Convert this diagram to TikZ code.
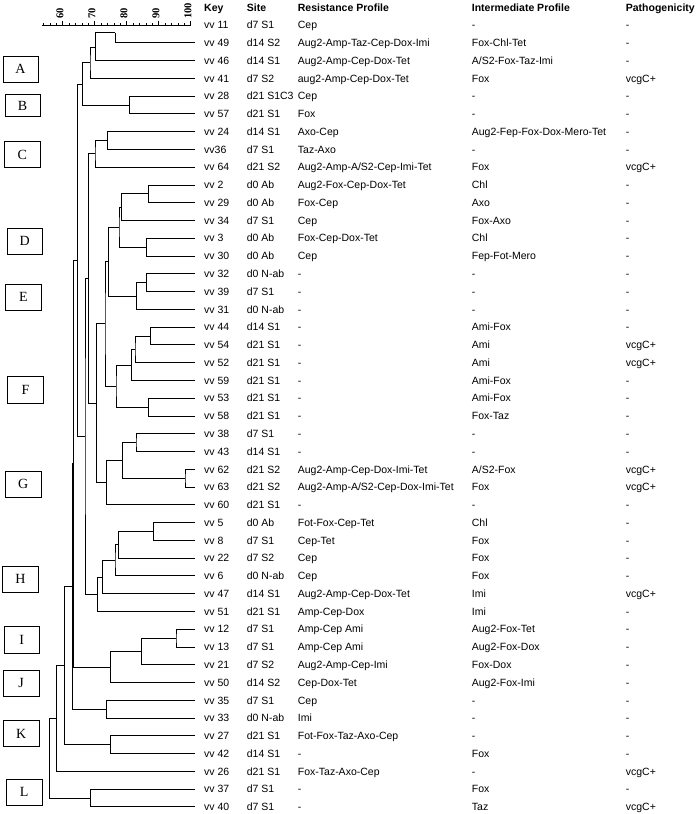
\documentclass[tikz,border=0pt]{standalone}
\usepackage{fontspec}
\setmainfont{Liberation Sans}
\newfontfamily\serifbox{Liberation Serif}
\newcommand\jn[3]{\draw[tree] (#2) -| (#1) |- (#3);}
\newcommand\leafrow[7]{%
  \pgfmathsetmacro\yy{25+17.77*#1}%
  \coordinate (l#2) at (195,\yy);%
  \node[txt] (k#2) at (204,\yy) {#3};%
  \node[txt] (s#2) at (246.7,\yy) {#4};%
  \node[txt] (r#2) at (297.7,\yy) {#5};%
  \node[txt] (m#2) at (471.7,\yy) {#6};%
  \node[txt] (p#2) at (625.7,\yy) {#7};%
}
\begin{document}
\begin{tikzpicture}[x=1pt,y=-1pt,
  txt/.style={anchor=west, inner sep=0pt, text height=7.5pt, text depth=0pt, font=\fontsize{10.5}{12}\selectfont},
  hdr/.style={anchor=west, inner sep=0pt, text height=7.5pt, text depth=0pt, font=\fontsize{10.5}{12}\selectfont\bfseries},
  axlab/.style={rotate=90, anchor=west, inner sep=0pt, text height=7.5pt, text depth=0pt, font=\serifbox\fontsize{10.5}{12}\selectfont\bfseries},
  lbox/.style={draw, line width=0.8pt, inner sep=0pt, font=\serifbox\fontsize{14}{14}\selectfont},
  tree/.style={line width=0.8pt, black}]
\useasboundingbox (0,0) rectangle (696,814);
% headers
\node[hdr] (hkey) at (204,7.5) {Key};
\node[hdr] (hsite) at (246.7,7.5) {Site};
\node[hdr] (hres) at (297.7,7.5) {Resistance Profile};
\node[hdr] (hint) at (471.7,7.5) {Intermediate Profile};
\node[hdr] (hpat) at (625.7,7.5) {Pathogenicity};
% axis
\draw[tree] (41.7,25) -- (190.7,25);
\foreach \v in {54,56,...,100} \draw[tree] ({190.7-(100-\v)*3.2},25) -- ++(0,-2.5);
\foreach \v in {60,70,...,100} {
  \draw[tree] ({190.7-(100-\v)*3.2},25) -- ++(0,-4);
  \node[axlab] at ({187.7-(100-\v)*3.2},19) {\v};
}
% rows
\leafrow{0}{11}{vv 11}{d7 S1}{Cep}{-}{-}
\leafrow{1}{49}{vv 49}{d14 S2}{Aug2-Amp-Taz-Cep-Dox-Imi}{Fox-Chl-Tet}{-}
\leafrow{2}{46}{vv 46}{d14 S1}{Aug2-Amp-Cep-Dox-Tet}{A/S2-Fox-Taz-Imi}{-}
\leafrow{3}{41}{vv 41}{d7 S2}{aug2-Amp-Cep-Dox-Tet}{Fox}{vcgC+}
\leafrow{4}{28}{vv 28}{d21 S1C3}{Cep}{-}{-}
\leafrow{5}{57}{vv 57}{d21 S1}{Fox}{-}{-}
\leafrow{6}{24}{vv 24}{d14 S1}{Axo-Cep}{Aug2-Fep-Fox-Dox-Mero-Tet}{-}
\leafrow{7}{36}{vv36}{d7 S1}{Taz-Axo}{-}{-}
\leafrow{8}{64}{vv 64}{d21 S2}{Aug2-Amp-A/S2-Cep-Imi-Tet}{Fox}{vcgC+}
\leafrow{9}{2}{vv 2}{d0 Ab}{Aug2-Fox-Cep-Dox-Tet}{Chl}{-}
\leafrow{10}{29}{vv 29}{d0 Ab}{Fox-Cep}{Axo}{-}
\leafrow{11}{34}{vv 34}{d7 S1}{Cep}{Fox-Axo}{-}
\leafrow{12}{3}{vv 3}{d0 Ab}{Fox-Cep-Dox-Tet}{Chl}{-}
\leafrow{13}{30}{vv 30}{d0 Ab}{Cep}{Fep-Fot-Mero}{-}
\leafrow{14}{32}{vv 32}{d0 N-ab}{-}{-}{-}
\leafrow{15}{39}{vv 39}{d7 S1}{-}{-}{-}
\leafrow{16}{31}{vv 31}{d0 N-ab}{-}{-}{-}
\leafrow{17}{44}{vv 44}{d14 S1}{-}{Ami-Fox}{-}
\leafrow{18}{54}{vv 54}{d21 S1}{-}{Ami}{vcgC+}
\leafrow{19}{52}{vv 52}{d21 S1}{-}{Ami}{vcgC+}
\leafrow{20}{59}{vv 59}{d21 S1}{-}{Ami-Fox}{-}
\leafrow{21}{53}{vv 53}{d21 S1}{-}{Ami-Fox}{-}
\leafrow{22}{58}{vv 58}{d21 S1}{-}{Fox-Taz}{-}
\leafrow{23}{38}{vv 38}{d7 S1}{-}{-}{-}
\leafrow{24}{43}{vv 43}{d14 S1}{-}{-}{-}
\leafrow{25}{62}{vv 62}{d21 S2}{Aug2-Amp-Cep-Dox-Imi-Tet}{A/S2-Fox}{vcgC+}
\leafrow{26}{63}{vv 63}{d21 S2}{Aug2-Amp-A/S2-Cep-Dox-Imi-Tet}{Fox}{vcgC+}
\leafrow{27}{60}{vv 60}{d21 S1}{-}{-}{-}
\leafrow{28}{5}{vv 5}{d0 Ab}{Fot-Fox-Cep-Tet}{Chl}{-}
\leafrow{29}{8}{vv 8}{d7 S1}{Cep-Tet}{Fox}{-}
\leafrow{30}{22}{vv 22}{d7 S2}{Cep}{Fox}{-}
\leafrow{31}{6}{vv 6}{d0 N-ab}{Cep}{Fox}{-}
\leafrow{32}{47}{vv 47}{d14 S1}{Aug2-Amp-Cep-Dox-Tet}{Imi}{vcgC+}
\leafrow{33}{51}{vv 51}{d21 S1}{Amp-Cep-Dox}{Imi}{-}
\leafrow{34}{12}{vv 12}{d7 S1}{Amp-Cep Ami}{Aug2-Fox-Tet}{-}
\leafrow{35}{13}{vv 13}{d7 S1}{Amp-Cep Ami}{Aug2-Fox-Dox}{-}
\leafrow{36}{21}{vv 21}{d7 S2}{Aug2-Amp-Cep-Imi}{Fox-Dox}{-}
\leafrow{37}{50}{vv 50}{d14 S2}{Cep-Dox-Tet}{Aug2-Fox-Imi}{-}
\leafrow{38}{35}{vv 35}{d7 S1}{Cep}{-}{-}
\leafrow{39}{33}{vv 33}{d0 N-ab}{Imi}{-}{-}
\leafrow{40}{27}{vv 27}{d21 S1}{Fot-Fox-Taz-Axo-Cep}{-}{-}
\leafrow{41}{42}{vv 42}{d14 S1}{-}{Fox}{-}
\leafrow{42}{26}{vv 26}{d21 S1}{Fox-Taz-Axo-Cep}{-}{vcgC+}
\leafrow{43}{37}{vv 37}{d7 S1}{-}{Fox}{-}
\leafrow{44}{40}{vv 40}{d7 S1}{-}{Taz}{vcgC+}
% internal nodes (x, stem y)
\coordinate (a1) at (115,32.5);
\coordinate (a2) at (95.7,47.2);
\coordinate (a3) at (90,62.8);
\coordinate (b1) at (129.3,105.0);
\coordinate (ab) at (82.7,83.9);
\coordinate (c1) at (107.7,140.5);
\coordinate (c2) at (95,153.8);
\coordinate (d1) at (148.3,193.8);
\coordinate (d2) at (121.7,207.1);
\coordinate (d3) at (146.7,247.1);
\coordinate (d4) at (119,227.1);
\coordinate (e1) at (146.7,282.7);
\coordinate (e2) at (136.7,296.0);
\coordinate (de) at (108.3,261.6);
\coordinate (f1) at (150.7,336.0);
\coordinate (f2) at (135,349.3);
\coordinate (f3) at (131.7,364.9);
\coordinate (f4) at (148.3,407.1);
\coordinate (f5) at (116,386.0);
\coordinate (df) at (105,323.8);
\coordinate (g1) at (136,442.6);
\coordinate (g2) at (185,478.1);
\coordinate (g3) at (122.7,460.4);
\coordinate (g4) at (106.7,482.6);
\coordinate (dg) at (96.7,403.2);
\coordinate (cg) at (88.3,278.5);
\coordinate (h1) at (153.3,531.4);
\coordinate (h2) at (118.3,544.8);
\coordinate (h3) at (115,560.3);
\coordinate (h4) at (102.7,577.0);
\coordinate (h5) at (97.3,594.2);
\coordinate (ch) at (85,436.4);
\coordinate (ah) at (77.7,260.2);
\coordinate (i1) at (176,638.1);
\coordinate (i2) at (141.7,651.4);
\coordinate (j1) at (110.7,666.9);
\coordinate (aj) at (73.3,463.6);
\coordinate (k1) at (106.7,709.1);
\coordinate (ak) at (72.3,586.4);
\coordinate (k2) at (110.7,744.7);
\coordinate (ak2) at (64.3,665.6);
\coordinate (a26) at (56.7,718.5);
\coordinate (lL) at (90.7,798.0);
\coordinate (root) at (49.3,758.3);
% joins
\draw[tree] (a1) |- (l49);
\jn{a2}{a1}{l46}
\jn{a3}{a2}{l41}
\jn{b1}{l28}{l57}
\jn{ab}{a3}{b1}
\jn{c1}{l24}{l36}
\jn{c2}{c1}{l64}
\jn{d1}{l2}{l29}
\jn{d2}{d1}{l34}
\jn{d3}{l3}{l30}
\jn{d4}{d2}{d3}
\jn{e1}{l32}{l39}
\jn{e2}{e1}{l31}
\jn{de}{d4}{e2}
\jn{f1}{l44}{l54}
\jn{f2}{f1}{l52}
\jn{f3}{f2}{l59}
\jn{f4}{l53}{l58}
\jn{f5}{f3}{f4}
\jn{df}{de}{f5}
\jn{g1}{l38}{l43}
\jn{g2}{l62}{l63}
\jn{g3}{g1}{g2}
\jn{g4}{g3}{l60}
\jn{dg}{df}{g4}
\jn{cg}{c2}{dg}
\jn{h1}{l5}{l8}
\jn{h2}{h1}{l22}
\jn{h3}{h2}{l6}
\jn{h4}{h3}{l47}
\jn{h5}{h4}{l51}
\jn{ch}{cg}{h5}
\jn{ah}{ab}{ch}
\jn{i1}{l12}{l13}
\jn{i2}{i1}{l21}
\jn{j1}{i2}{l50}
\jn{aj}{ah}{j1}
\jn{k1}{l35}{l33}
\jn{ak}{aj}{k1}
\jn{k2}{l27}{l42}
\jn{ak2}{ak}{k2}
\jn{a26}{ak2}{l26}
\jn{lL}{l37}{l40}
\jn{root}{a26}{lL}
% cluster boxes
\node[lbox, minimum width=35pt, minimum height=26pt] (bA) at (20.5,69) {A};
\node[lbox, minimum width=35pt, minimum height=22.4pt] (bB) at (22.5,105.5) {B};
\node[lbox, minimum width=35.7pt, minimum height=26pt] (bC) at (22.2,154.7) {C};
\node[lbox, minimum width=35pt, minimum height=26pt] (bD) at (24.8,241.3) {D};
\node[lbox, minimum width=35.3pt, minimum height=26pt] (bE) at (23.3,297) {E};
\node[lbox, minimum width=35.6pt, minimum height=26.6pt] (bF) at (25.5,390) {F};
\node[lbox, minimum width=35.3pt, minimum height=26.3pt] (bG) at (23.3,484.2) {G};
\node[lbox, minimum width=35.6pt, minimum height=26.3pt] (bH) at (20.5,579.2) {H};
\node[lbox, minimum width=35.3pt, minimum height=26.6pt] (bI) at (21.7,640) {I};
\node[lbox, minimum width=35.7pt, minimum height=26pt] (bJ) at (21.2,683) {J};
\node[lbox, minimum width=35.7pt, minimum height=26pt] (bK) at (21.2,733.7) {K};
\node[lbox, minimum width=36.3pt, minimum height=26pt] (bL) at (24.2,792.3) {L};
\end{tikzpicture}
\end{document}
